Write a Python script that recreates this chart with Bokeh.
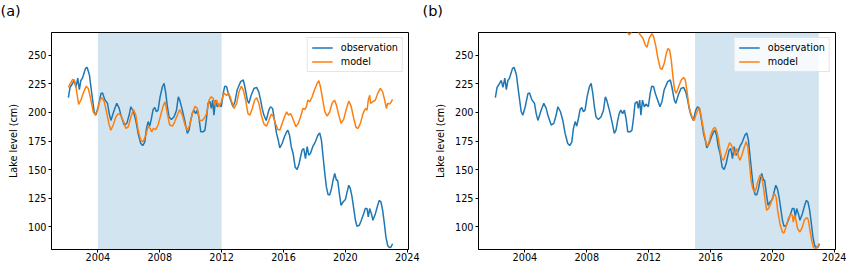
from bokeh.plotting import figure
from bokeh.models import BoxAnnotation, FixedTicker
from bokeh.layouts import row
from bokeh.embed import file_html
from bokeh.resources import INLINE

# ---- data (decimal years, lake level in cm) ----
obs_t = [2002.09, 2002.2, 2002.3, 2002.47, 2002.58, 2002.7, 2002.8, 2002.9, 2003.0, 2003.2,
         2003.3, 2003.45, 2003.6, 2003.76, 2003.87, 2004.02, 2004.2, 2004.3, 2004.45, 2004.62,
         2004.73, 2004.84, 2005.05, 2005.22, 2005.38, 2005.48, 2005.7, 2005.87, 2006.02, 2006.13,
         2006.3, 2006.45, 2006.6, 2006.77, 2006.9, 2007.03, 2007.14, 2007.25, 2007.35, 2007.46,
         2007.57, 2007.68, 2007.78, 2007.89, 2008.02, 2008.17, 2008.28, 2008.39, 2008.49, 2008.6,
         2008.75, 2008.92, 2009.08, 2009.2, 2009.29, 2009.46, 2009.61, 2009.78, 2009.89, 2010.0,
         2010.1, 2010.2, 2010.32, 2010.43, 2010.54, 2010.65, 2010.8, 2010.92, 2011.03, 2011.12,
         2011.25, 2011.33, 2011.42, 2011.5, 2011.6, 2011.72, 2011.83, 2011.98, 2012.1, 2012.2,
         2012.32, 2012.43, 2012.58, 2012.73, 2012.86, 2013.0, 2013.23, 2013.4, 2013.5, 2013.66,
         2013.76, 2013.91, 2014.09, 2014.26, 2014.4, 2014.52, 2014.62, 2014.73, 2014.88, 2015.05,
         2015.16, 2015.29, 2015.42, 2015.55, 2015.66, 2015.76, 2015.91, 2016.06, 2016.2, 2016.28,
         2016.39, 2016.5, 2016.62, 2016.75, 2016.88, 2017.01, 2017.1, 2017.2, 2017.31, 2017.42,
         2017.53, 2017.63, 2017.74, 2017.89, 2018.06, 2018.22, 2018.34, 2018.45, 2018.56, 2018.67,
         2018.77, 2018.88, 2018.99, 2019.1, 2019.2, 2019.31, 2019.42, 2019.5, 2019.61, 2019.72,
         2019.85, 2020.0, 2020.11, 2020.22, 2020.32, 2020.43, 2020.54, 2020.65, 2020.75, 2020.9,
         2021.03, 2021.18, 2021.29, 2021.4, 2021.48, 2021.57, 2021.68, 2021.78, 2021.94, 2022.09,
         2022.19, 2022.3, 2022.41, 2022.52, 2022.62, 2022.73, 2022.86, 2022.95, 2023.05]
obs_v = [213, 222, 224, 228, 222, 230, 220, 228, 230, 238.6,
         239.5, 233, 217, 200.6, 197.7, 205, 216.7, 217, 211, 208,
         199, 193, 202, 208, 203.5, 197.7, 189, 190.4, 197.7, 205,
         200.6, 193, 181.6, 172.8, 171, 174, 186, 192, 188, 194.7,
         202.6, 204.4, 200.6, 202, 213.7, 222.5, 225.4, 216.7, 205, 196,
         193.9, 196, 202, 213.7, 210.8, 202, 193, 181.6, 184.5, 193,
         199, 202, 199, 202, 194.7, 183, 183, 184.5, 196, 208,
         209.4, 203.5, 210.8, 197.7, 210.8, 205, 207.3, 205, 216.7, 223,
         222.5, 216.7, 210.8, 205, 209.4, 219.6, 227, 228.4, 222.5, 210.8,
         208, 215, 221, 222, 218, 210.8, 203.5, 197.7, 193, 202,
         205, 203.5, 193, 181.6, 175.7, 169, 172.8, 178.7, 183, 184.5,
         180, 170, 164, 152.3, 150, 155, 161, 167, 168.4, 159.6,
         170, 162.6, 164, 170, 174.3, 180, 182, 175.7, 161, 146.5,
         134.8, 128, 128, 133.3, 140.6, 146.5, 140.6, 140.6, 129, 118.7,
         121.6, 123.7, 130.4, 136.3, 133.3, 126, 115.8, 105.6, 100.3, 101.2,
         105.6, 111.4, 115.8, 115.8, 108.5, 115.8, 111.4, 105.6, 111.4, 118.7,
         123, 121.6, 114.3, 102.6, 91, 83.6, 81.6, 82.2, 85]

model_a_t = [2002.09, 2002.22, 2002.37, 2002.47, 2002.58, 2002.75, 2002.9, 2003.08, 2003.25, 2003.38,
             2003.55, 2003.7, 2003.83, 2003.98, 2004.13, 2004.26, 2004.41, 2004.58, 2004.73, 2004.84,
             2004.99, 2005.16, 2005.31, 2005.48, 2005.66, 2005.81, 2005.96, 2006.13, 2006.3, 2006.45,
             2006.6, 2006.77, 2006.92, 2007.1, 2007.25, 2007.38, 2007.48, 2007.59, 2007.74, 2007.89,
             2008.06, 2008.24, 2008.34, 2008.49, 2008.64, 2008.82, 2008.97, 2009.14, 2009.29, 2009.46,
             2009.63, 2009.78, 2009.94, 2010.1, 2010.28, 2010.43, 2010.58, 2010.75, 2010.9, 2011.03,
             2011.18, 2011.33, 2011.46, 2011.57, 2011.68, 2011.83, 2011.98, 2012.15, 2012.32, 2012.47,
             2012.62, 2012.8, 2012.97, 2013.12, 2013.27, 2013.4, 2013.55, 2013.7, 2013.83, 2013.98,
             2014.13, 2014.26, 2014.41, 2014.56, 2014.73, 2014.9, 2015.05, 2015.2, 2015.33, 2015.48,
             2015.63, 2015.76, 2015.91, 2016.06, 2016.2, 2016.32, 2016.45, 2016.56, 2016.67, 2016.8,
             2016.95, 2017.1, 2017.25, 2017.38, 2017.48, 2017.57, 2017.7, 2017.85, 2018.0, 2018.17,
             2018.28, 2018.39, 2018.54, 2018.67, 2018.82, 2018.99, 2019.14, 2019.29, 2019.42, 2019.57,
             2019.72, 2019.89, 2020.04, 2020.22, 2020.37, 2020.54, 2020.69, 2020.82, 2020.97, 2021.14,
             2021.29, 2021.4, 2021.48, 2021.57, 2021.63, 2021.78, 2021.94, 2022.09, 2022.26, 2022.41,
             2022.54, 2022.65, 2022.73, 2022.86, 2022.97, 2023.05]
model_a_v = [222, 225.4, 229, 228.4, 222.5, 207, 210.8, 218, 223, 221,
             210.8, 200.6, 197.7, 202, 210.8, 213, 209.4, 199, 189, 184.5,
             189, 196, 199, 197.7, 192, 186, 187.4, 196, 202.6, 197.7,
             184.5, 175.7, 174.3, 180, 188, 186, 183, 186, 185, 189,
             197.7, 206.4, 209.4, 199, 189, 188, 192, 197.7, 202.6, 197.7,
             189, 184.5, 189, 199, 205.5, 203.5, 193, 193, 195.6, 199,
             210.8, 213.7, 212.3, 206.4, 210.8, 205, 209.4, 217, 215, 216.7,
             210.8, 203.5, 208, 218, 223, 219.6, 210.8, 199, 197.7, 203.5,
             210.8, 213, 208, 197.7, 190, 188, 193, 198.5, 196.8, 190.4,
             185, 184.5, 190.4, 196, 200.6, 197.7, 199, 196, 192, 187.4,
             190.4, 196, 203.5, 202.6, 205, 210.8, 209.4, 213.7, 219.6, 225.4,
             227.8, 222.5, 210.8, 200.6, 196.8, 200.6, 208, 210.8, 206.4, 197.7,
             190.4, 193.9, 202, 210, 205.5, 194.7, 186.8, 186, 190.4, 199,
             203.5, 202, 210.8, 215, 208, 209.4, 210.8, 216.7, 221, 218,
             210.8, 203.5, 208, 207.3, 209.4, 211.4]

model_b_t = [2010.45, 2010.645, 2010.75, 2010.86, 2011.0, 2011.2, 2011.355, 2011.46, 2011.63, 2011.785,
             2011.89, 2012.04, 2012.215, 2012.32, 2012.47, 2012.6, 2012.75, 2012.86, 2013.01, 2013.14,
             2013.25, 2013.355, 2013.46, 2013.57, 2013.68, 2013.785, 2013.935, 2014.11, 2014.26, 2014.37,
             2014.47, 2014.58, 2014.69, 2014.84, 2014.95, 2015.075, 2015.23, 2015.33, 2015.44, 2015.59,
             2015.72, 2015.81, 2015.935, 2016.04, 2016.19, 2016.3, 2016.41, 2016.52, 2016.62, 2016.73,
             2016.84, 2016.95, 2017.1, 2017.23, 2017.33, 2017.48, 2017.59, 2017.7, 2017.81, 2017.91,
             2018.06, 2018.19, 2018.3, 2018.41, 2018.52, 2018.62, 2018.73, 2018.84, 2018.95, 2019.05,
             2019.2, 2019.31, 2019.42, 2019.53, 2019.63, 2019.74, 2019.89, 2020.02, 2020.13, 2020.24,
             2020.34, 2020.49, 2020.645, 2020.75, 2020.88, 2021.03, 2021.18, 2021.29, 2021.35, 2021.44,
             2021.53, 2021.63, 2021.785, 2021.935, 2022.06, 2022.215, 2022.32, 2022.43, 2022.54, 2022.645,
             2022.8, 2022.92, 2023.01]
model_b_v = [282, 270, 268, 270, 277, 279, 270, 268, 265, 259,
             257, 265, 269, 266.4, 257.6, 247.4, 238.6, 237.7, 243, 251.8,
             256, 254.7, 246, 231.3, 219.6, 216.7, 222.5, 228.4, 230.7, 228.4,
             219.6, 208, 200.6, 194.7, 193, 199, 203.5, 201.5, 193, 181.6,
             172.8, 170.5, 175.7, 181.6, 186, 186.8, 183, 175.7, 167, 159.6,
             158.2, 162.6, 168.4, 173.4, 172, 167, 162.6, 168.4, 161, 158.2,
             164, 170, 174.3, 170, 155.3, 140.6, 133.3, 130.4, 133.3, 139.2,
             145, 143.6, 134.8, 123, 114.3, 115.8, 120, 126, 129, 126,
             114.3, 102.6, 95.3, 94.4, 99.6, 107, 110.8, 110, 104, 110,
             105.6, 98.2, 95.3, 99.6, 105.6, 108, 106.2, 96.8, 88, 82.2,
             80.7, 82.2, 85]

calib_a = (2004, 2012)
calib_b = (2015, 2023)
x_ticks = [2004, 2008, 2012, 2016, 2020, 2024]
y_ticks = [100, 125, 150, 175, 200, 225, 250]
x_limits = (2001.0, 2024.08)
y_limits = (80, 270)
series_names = ["observation", "model"]
panel_labels = ["(a)", "(b)"]
y_label = "Lake level (cm)"

BLUE = "#1f77b4"
ORANGE = "#ff7f0e"
FONT = "DejaVu Sans"
FS = "9.7px"
FIG_H = 264


def make_panel(label, mt, mv, calib, width, b_left, b_right, label_dx):
    p = figure(width=width, height=FIG_H, x_range=x_limits, y_range=y_limits,
               output_backend="svg", toolbar_location=None,
               min_border_left=b_left, min_border_right=b_right,
               min_border_top=32, min_border_bottom=15)
    p.xgrid.visible = False
    p.ygrid.visible = False
    p.outline_line_color = "black"
    p.outline_line_width = 1
    p.background_fill_color = "white"
    p.border_fill_color = "white"

    # panel label as a left-aligned title in the canvas' top-left corner;
    # a blank second line lifts it toward the top edge
    p.title.text = label + "\n "
    p.title.align = "left"
    p.title.offset = -b_left + label_dx
    p.title.standoff = 0
    p.title.text_line_height = 0.85
    p.title.text_font = FONT
    p.title.text_font_size = "14.5px"
    p.title.text_font_style = "normal"
    p.title.text_color = "black"

    p.add_layout(BoxAnnotation(left=calib[0], right=calib[1], fill_color=BLUE,
                               fill_alpha=0.2, line_color=None, level="underlay"))

    p.line(obs_t, obs_v, line_color=BLUE, line_width=1.5, legend_label=series_names[0])
    p.line(mt, mv, line_color=ORANGE, line_width=1.5, legend_label=series_names[1])

    for ax in (p.xaxis[0], p.yaxis[0]):
        ax.minor_tick_line_color = None
        ax.major_tick_in = 0
        ax.major_tick_out = 3
        ax.major_tick_line_color = "black"
        ax.axis_line_color = "black"
        ax.major_label_text_font = FONT
        ax.major_label_text_font_size = FS
        ax.major_label_text_color = "black"
    p.xaxis.ticker = FixedTicker(ticks=x_ticks)
    p.yaxis.ticker = FixedTicker(ticks=y_ticks)
    p.xaxis.major_label_standoff = 0
    p.yaxis.major_label_standoff = 2
    p.yaxis.axis_label = y_label
    p.yaxis.axis_label_text_font = FONT
    p.yaxis.axis_label_text_font_size = FS
    p.yaxis.axis_label_text_font_style = "normal"
    p.yaxis.axis_label_text_color = "black"
    p.yaxis.axis_label_standoff = 6

    lg = p.legend[0]
    lg.location = "top_right"
    lg.margin = 5
    lg.padding = 4
    lg.spacing = 3
    lg.glyph_width = 21
    lg.glyph_height = 11
    lg.label_height = 11
    lg.label_standoff = 8
    lg.label_text_font = FONT
    lg.label_text_font_size = FS
    lg.label_text_color = "black"
    lg.border_line_color = "#cccccc"
    lg.border_line_width = 1
    lg.background_fill_alpha = 0.8
    return p


p1 = make_panel(panel_labels[0], model_a_t, model_a_v, calib_a, 420, 51, 12, 0)
p2 = make_panel(panel_labels[1], model_b_t, model_b_v, calib_b, 426, 58, 11, 2)

layout = row(p1, p2)
open("out.html", "w").write(file_html(layout, INLINE))
